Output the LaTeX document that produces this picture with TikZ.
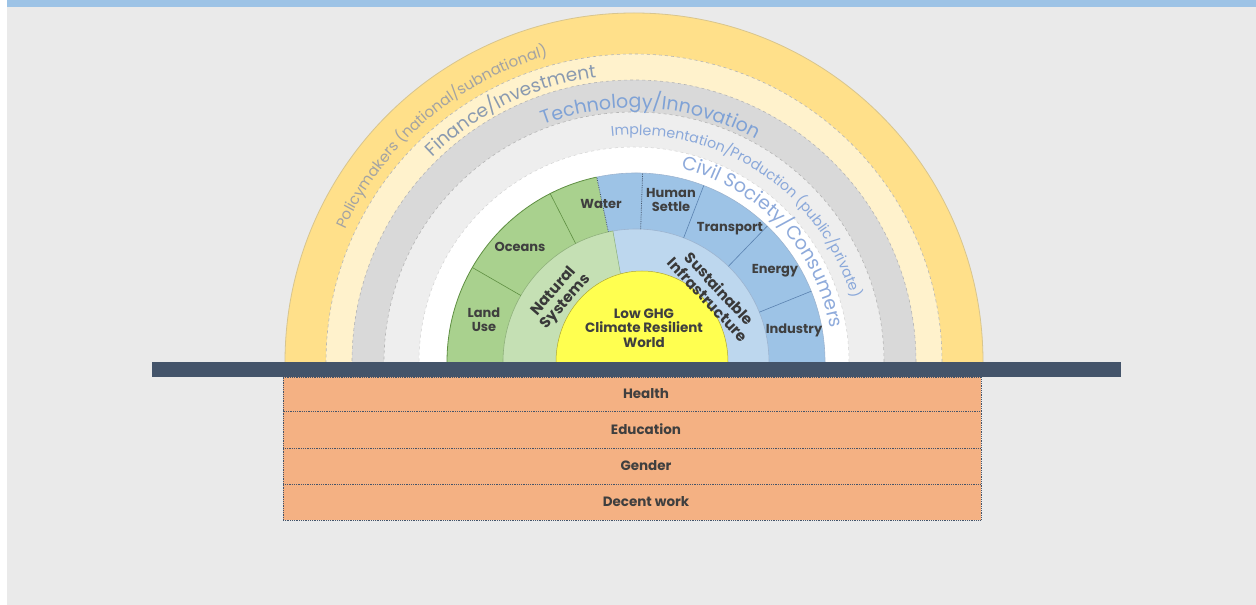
\documentclass[tikz,border=0pt]{standalone}
\usepackage{fontspec}
\setmainfont{Poppins}
\usetikzlibrary{decorations.text}

\definecolor{pageGray}{HTML}{EAEAEA}
\definecolor{topBlue}{HTML}{9DC3E6}
\definecolor{bandYellow}{HTML}{FFE08A}
\definecolor{bandYellowEdge}{HTML}{D8C58E}
\definecolor{bandCream}{HTML}{FFF2CC}
\definecolor{bandGray}{HTML}{D9D9D9}
\definecolor{bandLight}{HTML}{EEEEEE}
\definecolor{bandDash}{HTML}{B5B5B5}
\definecolor{ringGreen}{HTML}{A9D18E}
\definecolor{ringGreenLight}{HTML}{C5E0B4}
\definecolor{ringGreenLine}{HTML}{5F8F42}
\definecolor{ringBlue}{HTML}{9DC3E6}
\definecolor{ringBlueLight}{HTML}{BDD7EE}
\definecolor{ringBlueLine}{HTML}{5A82B0}
\definecolor{coreYellow}{HTML}{FFFF50}
\definecolor{barSlate}{HTML}{44546A}
\definecolor{rowOrange}{HTML}{F4B183}
\definecolor{labelDark}{HTML}{3F3F3F}
\definecolor{policyText}{HTML}{A3A3A3}
\definecolor{financeText}{HTML}{8A9AB0}
\definecolor{techText}{HTML}{7FA2D6}
\definecolor{implText}{HTML}{8AA8DA}
\definecolor{civilText}{HTML}{8EAADB}

\tikzset{
  sectorlabel/.style={font=\bfseries\fontsize{13}{14}\selectfont, text=labelDark, align=center, inner sep=0pt},
  corelabel/.style={font=\bfseries\fontsize{13.5}{14.5}\selectfont, text=labelDark, align=center, inner sep=0pt},
  systemlabel/.style={font=\bfseries\fontsize{15}{16}\selectfont, text=labelDark!90!black, align=center, inner sep=0pt},
  rowbox/.style={draw=barSlate, densely dotted, line width=0.8pt, fill=rowOrange, minimum width=698pt, inner sep=0pt},
  rowlabel/.style={font=\bfseries\fontsize{13.5}{15}\selectfont, text=labelDark, inner sep=0pt},
  banddash/.style={draw=bandDash, dashed, line width=0.6pt},
  greendiv/.style={draw=ringGreenLine, line width=0.6pt},
  bluediv/.style={draw=ringBlueLine, line width=0.6pt},
  seam/.style={draw=barSlate, densely dotted, line width=0.8pt},
  arctext/.style={decorate, decoration={text along path, text align=center, text={#1}}}
}

\begin{document}
\begin{tikzpicture}[x=1pt,y=1pt]
\useasboundingbox (0,0) rectangle (1256,605);

% page ground
\fill[white] (0,0) rectangle (1256,605);
\fill[pageGray] (7,0) rectangle (1256,598);
\fill[topBlue] (7,598) rectangle (1256,605);

\coordinate (C) at (634,243);
\coordinate (D) at (636,243);
\coordinate (E) at (642,243);

% stakeholder bands, outermost first
\fill[bandYellow] (C) ++(0:349pt) arc[start angle=0, end angle=180, radius=349pt] -- cycle;
\draw[bandYellowEdge, line width=0.8pt] (C) ++(0:349pt) arc[start angle=0, end angle=180, radius=349pt];
\fill[bandCream] (C) ++(0:308pt) arc[start angle=0, end angle=180, radius=308pt] -- cycle;
\draw[banddash] (C) ++(0:308pt) arc[start angle=0, end angle=180, radius=308pt];
\fill[bandGray] (C) ++(0:282pt) arc[start angle=0, end angle=180, radius=282pt] -- cycle;
\draw[banddash] (C) ++(0:282pt) arc[start angle=0, end angle=180, radius=282pt];
\fill[bandLight] (C) ++(0:250pt) arc[start angle=0, end angle=180, radius=250pt] -- cycle;
\draw[banddash] (C) ++(0:250pt) arc[start angle=0, end angle=180, radius=250pt];
\fill[white] (C) ++(0:215pt) arc[start angle=0, end angle=180, radius=215pt] -- cycle;
\draw[draw=bandDash!60, dashed, line width=0.5pt] (C) ++(0:215pt) arc[start angle=0, end angle=180, radius=215pt];

% band titles along the arcs
\path[arctext={|\fontsize{15}{15}\selectfont\color{policyText}|Policymakers (national/subnational)}]
  (C) ++(190.5:318pt) arc[start angle=190.5, end angle=70.5, radius=318pt];
\path[arctext={|\fontsize{18.5}{18.5}\selectfont\color{financeText}|Finance/Investment}]
  (C) ++(176:287pt) arc[start angle=176, end angle=56, radius=287pt];
\path[arctext={|\fontsize{19}{19}\selectfont\color{techText}|Technology/Innovation}]
  (C) ++(146:254pt) arc[start angle=146, end angle=26, radius=254pt];
\path[arctext={|\fontsize{14.2}{14.2}\selectfont\color{implText}|Implementation/Production (public/private)}]
  (C) ++(126:227pt) arc[start angle=126, end angle=-14, radius=227pt];
\path[arctext={|\fontsize{19}{19}\selectfont\color{civilText}|Civil Society/Consumers}]
  (C) ++(113:199pt) arc[start angle=113, end angle=-27, radius=199pt];

% sector ring: natural systems (green) and infrastructure (blue)
\fill[ringGreen] (D) -- ++(180:189pt) arc[start angle=180, end angle=102, radius=189pt] -- cycle;
\fill[ringBlue] (D) -- ++(102:189pt) arc[start angle=102, end angle=0, radius=189pt] -- cycle;
\draw[ringGreenLine, line width=0.8pt] (D) ++(180:189pt) arc[start angle=180, end angle=102, radius=189pt];
\draw[ringBlueLine!60, line width=0.6pt] (D) ++(102:189pt) arc[start angle=102, end angle=0, radius=189pt];

% inner ring: the two system groups
\fill[ringGreenLight] (D) -- ++(180:133pt) arc[start angle=180, end angle=100, radius=133pt] -- cycle;
\fill[ringBlueLight] (D) -- ++(100:133pt) arc[start angle=100, end angle=0, radius=133pt] -- cycle;
\draw[ringGreenLine!70, line width=0.6pt] (D) ++(180:133pt) arc[start angle=180, end angle=100, radius=133pt];
\draw[ringBlueLine!60, line width=0.6pt] (D) ++(100:133pt) arc[start angle=100, end angle=0, radius=133pt];
\draw[ringGreenLine!70, line width=0.5pt] (D) ++(100:87pt) -- ++(100:46pt);

% sector dividers
\draw[greendiv] (D) ++(150:133pt) -- ++(150:56pt);
\draw[greendiv] (D) ++(117:133pt) -- ++(117:56pt);
\draw[seam] (D) ++(102:133pt) -- ++(102:56pt);
\draw[seam] (D) ++(88:133pt) -- ++(88:56pt);
\draw[bluediv] (D) ++(69:133pt) -- ++(69:56pt);
\draw[bluediv] (D) ++(46:133pt) -- ++(46:56pt);
\draw[bluediv] (D) ++(22:133pt) -- ++(22:56pt);

% core goal
\fill[coreYellow] (E) ++(86pt,0) arc[start angle=0, end angle=180, x radius=86pt, y radius=91pt] -- cycle;
\draw[olive!70, line width=0.5pt] (E) ++(86pt,0) arc[start angle=0, end angle=180, x radius=86pt, y radius=91pt];
\node[corelabel] (core) at (644,277) {Low GHG\\Climate Resilient\\World};

% sector labels
\node[sectorlabel] (landuse) at (484,285) {Land\\Use};
\node[sectorlabel] (oceans) at (520,358) {Oceans};
\node[sectorlabel] (water) at (601,401) {Water};
\node[sectorlabel] (human) at (671,405) {Human\\Settle};
\node[sectorlabel] (transport) at (730,376) {Transport};
\node[sectorlabel] (energy) at (775,334) {Energy};
\node[sectorlabel] (industry) at (794,275) {Industry};

% system group labels
\node[systemlabel, rotate=49] (natural) at (560,308) {Natural\\Systems};
\node[systemlabel, rotate=-47] (infra) at (714,311) {Sustainable\\Infrastructure};

% ground bar
\fill[barSlate] (152,228) rectangle (1121,243);

% cross-cutting rows
\node[rowbox, minimum height=34pt] (healthbox) at (632,211) {};
\node[rowbox, minimum height=37pt] (educationbox) at (632,175.5) {};
\node[rowbox, minimum height=36pt] (genderbox) at (632,139) {};
\node[rowbox, minimum height=36pt] (workbox) at (632,103) {};
\node[rowlabel] (health) at (646,211) {Health};
\node[rowlabel] (education) at (646,175.5) {Education};
\node[rowlabel] (gender) at (646,139) {Gender};
\node[rowlabel] (work) at (646,103) {Decent work};
\end{tikzpicture}
\end{document}
